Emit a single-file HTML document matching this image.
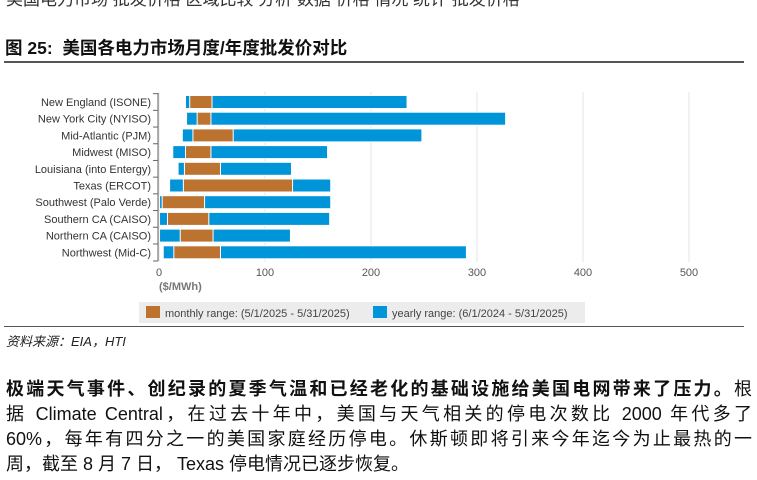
<!DOCTYPE html>
<html><head><meta charset="utf-8"><style>
body{margin:0;width:757px;height:480px;background:#fff;overflow:hidden;font-family:"Liberation Sans","Noto Sans CJK SC",sans-serif;position:relative}
.t{position:absolute;white-space:nowrap}
.pl{position:absolute;left:6px;width:746px;font-size:18px;color:#111;white-space:nowrap;text-align:justify;text-align-last:justify;font-family:'Liberation Sans','Noto Sans CJK SC',sans-serif}
</style></head><body>
<div class="t" style="left:6px;top:-15px;font-size:17px;color:#333">美国电力市场 批发价格 区域比较 分析 数据 价格 情况 统计 批发价格</div>
<div class="t" style="left:5px;top:35px;font-size:17.5px;font-weight:bold;color:#111">图 25:&nbsp; 美国各电力市场月度/年度批发价对比</div>
<div style="position:absolute;left:4px;top:61px;width:740px;height:1.5px;background:#555"></div>
<svg id="c" width="757" height="330" style="position:absolute;left:0;top:0"></svg>
<div style="position:absolute;left:4px;top:326px;width:740px;height:1px;background:#555"></div>
<div class="t" style="left:6px;top:331px;font-size:13px;font-style:italic;color:#222">资料来源：EIA，HTI</div>
<div>
<div class="pl" style="top:375px"><b>极端天气事件、创纪录的夏季气温和已经老化的基础设施给美国电网带来了压力。</b>根</div>
<div class="pl" style="top:400px">据 Climate Central，在过去十年中，美国与天气相关的停电次数比 2000 年代多了</div>
<div class="pl" style="top:425px">60%，每年有四分之一的美国家庭经历停电。休斯顿即将引来今年迄今为止最热的一</div>
<div class="pl" style="top:450px;text-align:left;text-align-last:left">周，截至 8 月 7 日， Texas 停电情况已逐步恢复。</div>
</div>
<script>
const categories=["New England (ISONE)","New York City (NYISO)","Mid-Atlantic (PJM)","Midwest (MISO)","Louisiana (into Entergy)","Texas (ERCOT)","Southwest (Palo Verde)","Southern CA (CAISO)","Northern CA (CAISO)","Northwest (Mid-C)"];
const yearlyMin=[25,26,22,13,18,10,0.5,0.5,0.5,4];
const yearlyMax=[234,327,248,159,125,162,162,161,124,290];
const monthlyMin=[29,36,32,25,24,23,3,8,20,14];
const monthlyMax=[50,49,70,49,58,126,43,47,51,58];
const ticks=[0,100,200,300,400,500];
const svg=document.getElementById('c');const NS='http://www.w3.org/2000/svg';
const x=v=>159+v*1.06;const y=i=>102+i*16.7;
function mk(t,a,txt){const e=document.createElementNS(NS,t);for(const k in a)e.setAttribute(k,a[k]);if(txt!=null)e.textContent=txt;svg.appendChild(e);return e;}
ticks.forEach(t=>{
const g=mk('line',{x1:x(t),x2:x(t),y1:92,y2:262,stroke:'#e4e4e4'});


const l=mk('text',{x:x(t),y:276,'font-size':11,fill:'#555','text-anchor':'middle','font-family':'Liberation Sans'},t);


});
const ax=mk('line',{x1:158,x2:158,y1:93,y2:261,stroke:'#666'});


categories.forEach((c,i)=>{
const tk=mk('line',{x1:153,x2:158,y1:y(i)-8.35,y2:y(i)-8.35,stroke:'#666'});


const l=mk('text',{x:151,y:y(i)+4,'font-size':11,fill:'#333','text-anchor':'end','font-family':'Liberation Sans'},c);


const b=mk('rect',{x:x(yearlyMin[i]),y:y(i)-6.5,width:x(yearlyMax[i])-x(yearlyMin[i]),height:13,fill:'#0095d9',stroke:'#fff','stroke-width':1});


const o=mk('rect',{x:x(monthlyMin[i]),y:y(i)-6.5,width:x(monthlyMax[i])-x(monthlyMin[i]),height:13,fill:'#bd7330',stroke:'#fff','stroke-width':1});


});
const bl=mk('line',{x1:153,x2:158,y1:261,y2:261,stroke:'#666'});


const u=mk('text',{x:159,y:290,'font-size':11,fill:'#777','font-weight':'bold','font-family':'Liberation Sans'},'($/MWh)');


const lg=mk('rect',{x:139,y:302,width:446,height:21,fill:'#ececec'});


const s1=mk('rect',{x:146,y:306,width:14,height:12,fill:'#bd7330'});


const t1=mk('text',{x:165,y:317,'font-size':11,fill:'#444','font-family':'Liberation Sans'},'monthly range: (5/1/2025 - 5/31/2025)');


const s2=mk('rect',{x:373,y:306,width:14,height:12,fill:'#0095d9'});


const t2=mk('text',{x:392,y:317,'font-size':11,fill:'#444','font-family':'Liberation Sans'},'yearly range: (6/1/2024 - 5/31/2025)');


</script>
</body></html>
